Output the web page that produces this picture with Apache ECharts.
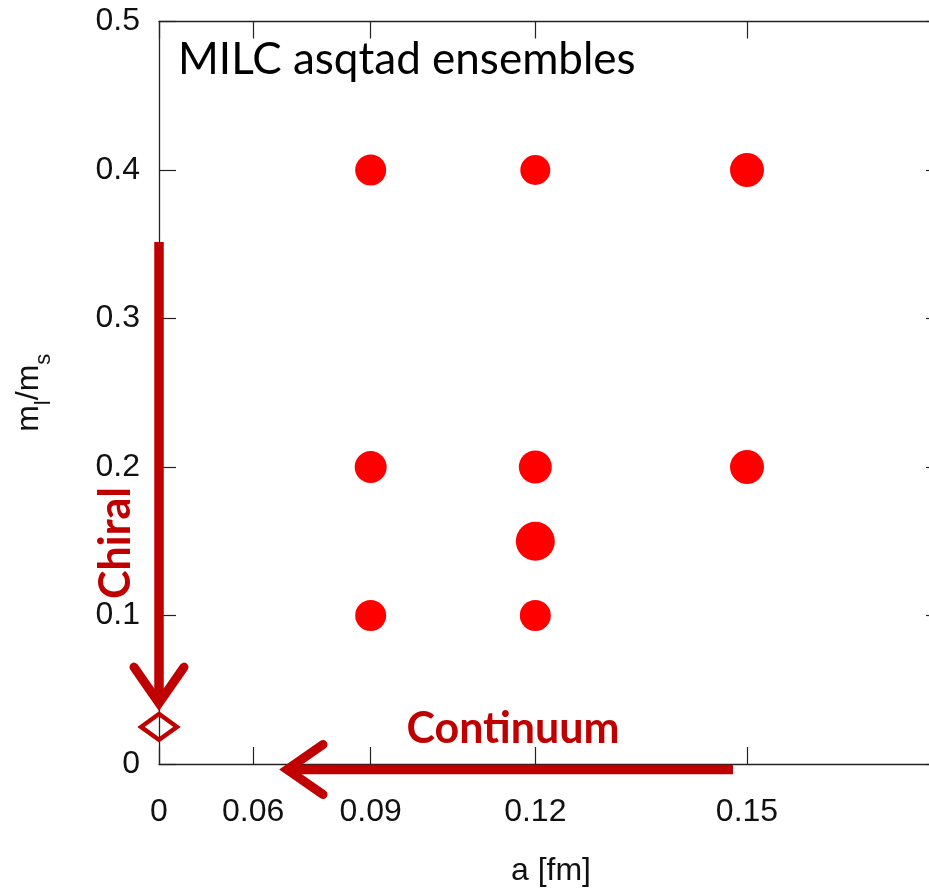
<!DOCTYPE html>
<html>
<head>
<meta charset="utf-8">
<script src="https://cdn.jsdelivr.net/npm/echarts@6/dist/echarts.min.js"></script>
<style>
  html, body { margin: 0; padding: 0; background: #fff; }
  #chart { width: 929px; height: 888px; }
</style>
</head>
<body>
<div id="chart"></div>
<script>
// ---- data ----
const xTickA = [0, 0.06, 0.09, 0.12, 0.15];          // a [fm] tick positions (axis is linear in a^2)
const xTickLabels = ['0', '0.06', '0.09', '0.12', '0.15'];
const yTicks = [0, 0.1, 0.2, 0.3, 0.4, 0.5];

const ensembleA     = [0.09, 0.12, 0.15, 0.09, 0.12, 0.15, 0.12, 0.09, 0.12];
const ensembleRatio = [0.4,  0.4,  0.4,  0.2,  0.2,  0.2,  0.15, 0.1,  0.1];
const ensembleSize  = [31,   30,   34,   32,   33,   34,   39,   31,   31];

const physicalPointA = [0];
const physicalPointRatio = [0.025];

// annotation arrows (in a [fm], ml/ms)
const chiralArrow    = [[0, 0.3515], [0, 0.041]];
const continuumArrow = [[0.1482, -0.0037], [0.0700, -0.0037]];

// ---- helpers ----
const sq = a => Math.sign(a) * a * a;
const RED = '#FF0000';
const DARK = '#C00000';

const chart = echarts.init(document.getElementById('chart'));

function arrowRender(params, api) {
  const p0 = api.coord([api.value(0), api.value(1)]);
  const p1 = api.coord([api.value(2), api.value(3)]);
  const dx = p1[0] - p0[0], dy = p1[1] - p0[1];
  const len = Math.sqrt(dx * dx + dy * dy);
  const ux = dx / len, uy = dy / len;
  const back = 36, half = 25;
  const bx = p1[0] - ux * back, by = p1[1] - uy * back;
  const w1 = [bx - uy * half, by + ux * half];
  const w2 = [bx + uy * half, by - ux * half];
  return {
    type: 'group',
    children: [
      { type: 'line', shape: { x1: p0[0], y1: p0[1], x2: p1[0] - ux * 4, y2: p1[1] - uy * 4 },
        style: { stroke: DARK, lineWidth: 9.5, lineCap: 'butt' } },
      { type: 'polyline', shape: { points: [w1, p1, w2] },
        style: { stroke: DARK, lineWidth: 9, lineCap: 'round', lineJoin: 'miter', fill: null } }
    ]
  };
}

const tickCommon = { inside: true, length: 17, lineStyle: { color: '#222', width: 1.2 } };
const lineCommon = { show: true, onZero: false, lineStyle: { color: '#222', width: 1.3 } };
const labelFont = { fontFamily: 'Liberation Sans, Arial, sans-serif', fontSize: 32, color: '#111' };

const option = {
  backgroundColor: '#fff',
  animation: false,
  grid: { left: 159, width: 784, top: 21.5, bottom: 124, containLabel: false, outerBoundsMode: 'none' },
  xAxis: [
    {
      type: 'value', min: 0, max: 0.03, position: 'bottom',
      name: 'a [fm]', nameLocation: 'middle', nameGap: 91,
      nameTextStyle: Object.assign({}, labelFont, { verticalAlign: 'top' }),
      axisLine: lineCommon,
      axisTick: Object.assign({}, tickCommon, { customValues: xTickA.map(sq) }),
      axisLabel: Object.assign({}, labelFont, {
        margin: 32,
        customValues: xTickA.map(sq),
        formatter: v => {
          for (let i = 0; i < xTickA.length; i++) if (Math.abs(sq(xTickA[i]) - v) < 1e-9) return xTickLabels[i];
          return '';
        }
      }),
      splitLine: { show: false }
    },
    {
      type: 'value', min: 0, max: 0.03, position: 'top',
      axisLine: lineCommon,
      axisTick: Object.assign({}, tickCommon, { customValues: xTickA.map(sq) }),
      axisLabel: { show: false },
      splitLine: { show: false }
    }
  ],
  yAxis: [
    {
      type: 'value', min: 0, max: 0.5, interval: 0.1, position: 'left',
      name: '{a|m}{b|l}{a|/m}{b|s}', nameLocation: 'middle', nameGap: 112,
      nameTextStyle: {
        rich: {
          a: { fontFamily: 'Liberation Sans, Arial, sans-serif', fontSize: 32, color: '#111', lineHeight: 36 },
          b: { fontFamily: 'Liberation Sans, Arial, sans-serif', fontSize: 22, color: '#111', verticalAlign: 'bottom', lineHeight: 36, padding: [0, 0, -8, 0] }
        }
      },
      axisLine: lineCommon,
      axisTick: tickCommon,
      axisLabel: Object.assign({}, labelFont, { margin: 19 }),
      splitLine: { show: false }
    },
    {
      type: 'value', min: 0, max: 0.5, interval: 0.1, position: 'right',
      axisLine: lineCommon,
      axisTick: tickCommon,
      axisLabel: { show: false },
      splitLine: { show: false }
    }
  ],
  graphic: [
    { type: 'text', left: 178, top: 38, z: 10,
      style: { text: 'MILC asqtad ensembles', fontFamily: 'Lato, sans-serif', fontSize: 44, fill: '#000' } },
    { type: 'text', x: 116, y: 543, rotation: Math.PI / 2, z: 10,
      style: { text: 'Chiral', fontFamily: 'Lato, sans-serif', fontWeight: 'bold', fontSize: 43, fill: DARK, align: 'center', verticalAlign: 'middle' } },
    { type: 'text', x: 513, y: 729, z: 10,
      style: { text: 'Continuum', fontFamily: 'Lato, sans-serif', fontWeight: 'bold', fontSize: 43, fill: DARK, align: 'center', verticalAlign: 'middle' } }
  ],
  series: [
    {
      type: 'scatter',
      data: ensembleA.map((a, i) => [sq(a), ensembleRatio[i]]),
      symbol: 'circle',
      symbolSize: (v, p) => ensembleSize[p.dataIndex],
      itemStyle: { color: RED, opacity: 1 },
      z: 3
    },
    {
      type: 'scatter',
      data: physicalPointA.map((a, i) => [sq(a), physicalPointRatio[i]]),
      symbol: 'diamond',
      symbolSize: [36, 26],
      clip: false,
      itemStyle: { color: 'rgba(0,0,0,0)', borderColor: DARK, borderWidth: 4.5, opacity: 1 },
      z: 4
    },
    {
      type: 'custom',
      renderItem: arrowRender,
      clip: false,
      data: [chiralArrow, continuumArrow].map(ar => [sq(ar[0][0]), ar[0][1], sq(ar[1][0]), ar[1][1]]),
      encode: { x: [0, 2], y: [1, 3] },
      z: 5
    }
  ]
};
chart.setOption(option);
</script>
</body>
</html>
